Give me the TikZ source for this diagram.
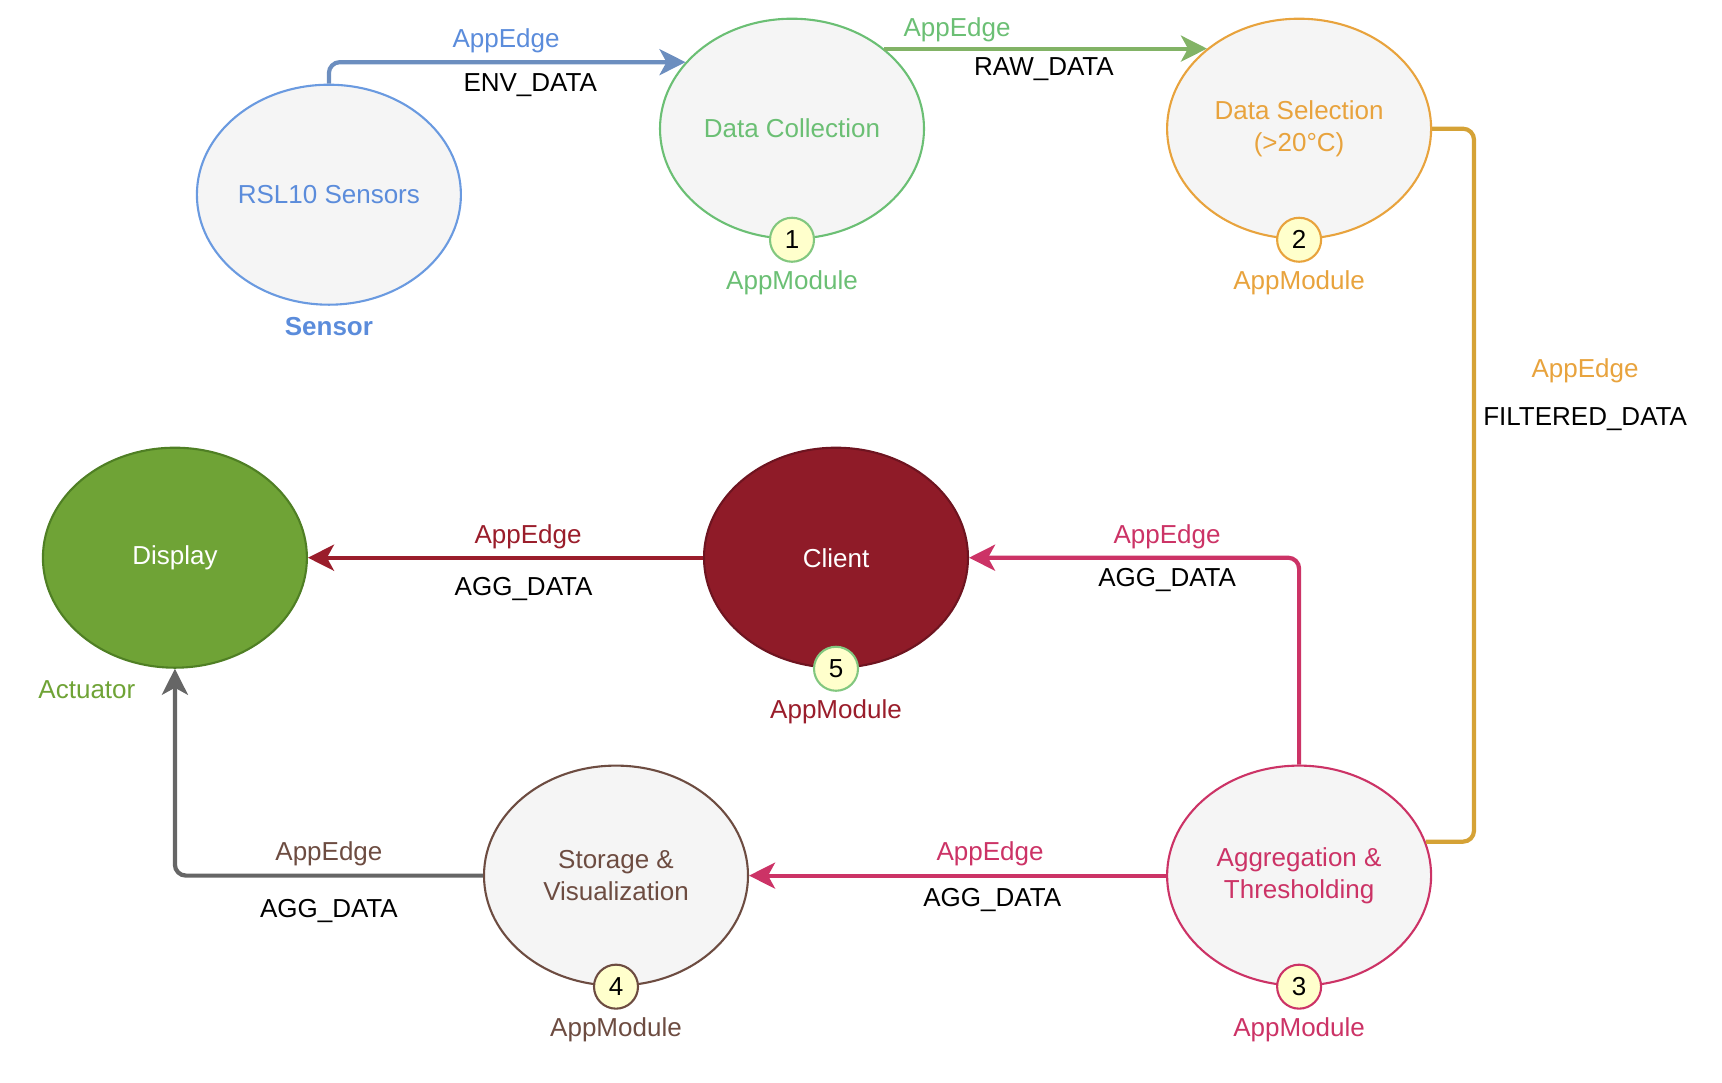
\documentclass[tikz,border=0pt]{standalone}
\usepackage{fontspec}
\setmainfont{Liberation Sans}
\usetikzlibrary{shapes.geometric,arrows.meta}
\definecolor{modfill}{HTML}{F5F5F5}
\definecolor{badgefill}{HTML}{FFFFCC}
\definecolor{sensorc}{HTML}{6A9AE0}
\definecolor{sensortxt}{HTML}{5B8CDB}
\definecolor{edgeblue}{HTML}{6C8EBF}
\definecolor{dcc}{HTML}{6BBF74}
\definecolor{edgegreen}{HTML}{82B366}
\definecolor{dsc}{HTML}{E8A33D}
\definecolor{edgegold}{HTML}{D5A236}
\definecolor{aggc}{HTML}{CC3366}
\definecolor{stc}{HTML}{6D4C41}
\definecolor{clfill}{HTML}{8F1B28}
\definecolor{clstroke}{HTML}{6E1420}
\definecolor{clc}{HTML}{9A1D2B}
\definecolor{dpfill}{HTML}{6FA336}
\definecolor{dpstroke}{HTML}{4F7F24}
\definecolor{edgegray}{HTML}{666666}
\definecolor{badgegreen}{HTML}{82C77F}
\begin{document}
\begin{tikzpicture}[x=1.1pt,y=-1.1pt,
  font=\fontsize{26}{32}\selectfont,
  mod/.style={ellipse, draw, line width=2.1pt, fill=modfill, minimum width=264pt, minimum height=220pt, inner sep=0pt, align=center},
  badge/.style={circle, draw, line width=2.1pt, fill=badgefill, minimum size=44pt, inner sep=0pt, text=black},
  edge/.style={line width=4.2pt, rounded corners=11pt},
  arr/.style={-{Stealth[length=26pt,width=26pt,inset=7pt]}},
  lbl/.style={inner sep=0pt, anchor=center}]
\useasboundingbox (0,0) rectangle (1565.45,983.64);

% modules
\node[mod, draw=sensorc, text=sensortxt] (sensor) at (299,177) {RSL10 Sensors};
\node[mod, draw=dcc, text=dcc] (dc) at (720,117) {Data Collection};
\node[mod, draw=dsc, text=dsc] (ds) at (1181,117) {Data Selection\\(>20°C)};
\node[mod, draw=aggc, text=aggc] (agg) at (1181,796) {Aggregation \&\\Thresholding};
\node[mod, draw=stc, text=stc] (stor) at (560,796) {Storage \&\\Visualization};
\node[mod, draw=clstroke, fill=clfill, text=white] (client) at (760,507) {Client};
\node[mod, draw=dpstroke, fill=dpfill, text=white] (disp) at (159,507) {Display};

% connectors
\draw[edge, arr, draw=edgeblue] (sensor.north) |- (dc.148);
\draw[edge, arr, draw=edgegreen] (dc.41) -- (ds.139);
\draw[edge, draw=edgegold] (ds.east) -| (1340,441) |- (agg.15);
\draw[edge, arr, draw=aggc] (agg.north) |- (client.east);
\draw[edge, arr, draw=aggc] (agg.west) -- (stor.east);
\draw[edge, arr, draw=clc] (client.west) -- (disp.east);
\draw[edge, arr, draw=edgegray] (stor.west) -| (disp.south);

% badges
\node[badge, draw=badgegreen] (b1) at (dc.south) {1};
\node[badge, draw=dsc] (b2) at (ds.south) {2};
\node[badge, draw=aggc] (b3) at (agg.south) {3};
\node[badge, draw=stc] (b4) at (stor.south) {4};
\node[badge, draw=badgegreen] (b5) at (client.south) {5};

% module labels
\node[lbl, text=sensortxt, font=\fontsize{26}{32}\selectfont\bfseries] (lsensor) at (299,297) {Sensor};
\node[lbl, text=dcc] (lm1) at (720,257) {AppModule};
\node[lbl, text=dsc] (lm2) at (1181,257) {AppModule};
\node[lbl, text=aggc] (lm3) at (1181,936) {AppModule};
\node[lbl, text=stc] (lm4) at (560,936) {AppModule};
\node[lbl, text=clc] (lm5) at (760,647) {AppModule};
\node[lbl, text=dpfill] (lact) at (79,627) {Actuator};

% edge labels
\node[lbl, text=sensortxt] (e1a) at (460,37) {AppEdge};
\node[lbl] (e1b) at (482,77) {ENV\_DATA};
\node[lbl, text=dcc] (e2a) at (870,27) {AppEdge};
\node[lbl] (e2b) at (949,63) {RAW\_DATA};
\node[lbl, text=dsc] (e3a) at (1441,337) {AppEdge};
\node[lbl] (e3b) at (1441,381) {FILTERED\_DATA};
\node[lbl, text=aggc] (e4a) at (1061,488) {AppEdge};
\node[lbl] (e4b) at (1061,527) {AGG\_DATA};
\node[lbl, text=aggc] (e5a) at (900,776) {AppEdge};
\node[lbl] (e5b) at (902,818) {AGG\_DATA};
\node[lbl, text=clc] (e6a) at (480,488) {AppEdge};
\node[lbl] (e6b) at (476,535) {AGG\_DATA};
\node[lbl, text=stc] (e7a) at (299,776) {AppEdge};
\node[lbl] (e7b) at (299,828) {AGG\_DATA};
\end{tikzpicture}
\end{document}
